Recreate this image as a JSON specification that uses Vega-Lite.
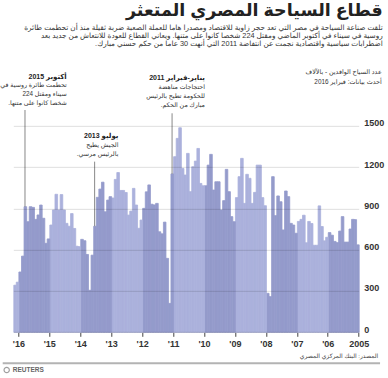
{
  "$schema": "https://vega.github.io/schema/vega-lite/v6.json",
  "width": 345.4,
  "height": 275.46,
  "autosize": {"type": "none"},
  "padding": {"left": 13.3, "top": 56.84, "right": 29.3, "bottom": 45.7},
  "background": "white",
  "config": {
    "view": {"stroke": null},
    "font": "Liberation Sans, DejaVu Sans, sans-serif"
  },
  "title": {
    "text": "\u202Bقطاع السياحة المصري المتعثر\u202C",
    "subtitle": [
      "\u202Bتلقت صناعة السياحة في مصر التي تعد حجر زاوية للاقتصاد ومصدرا هاما للعملة الصعبة ضربة ثقيلة منذ أن تحطمت طائرة\u202C",
      "\u202Bروسية في سيناء في أكتوبر الماضي ومقتل 224 شخصا كانوا على متنها. ويعاني القطاع للعودة للانتعاش من جديد بعد\u202C",
      "\u202Bاضطرابات سياسية واقتصادية نجمت عن انتفاضة 2011 التي أنهت 30 عاما من حكم حسني مبارك.\u202C"
    ],
    "anchor": "end",
    "frame": "group",
    "dx": 24,
    "fontSize": 17.5,
    "fontWeight": "bold",
    "color": "#222222",
    "subtitleFontSize": 7.3,
    "subtitleColor": "#333333",
    "subtitleLineHeight": 7.6,
    "subtitlePadding": 5,
    "offset": 10
  },
  "datasets": {
    "arrivals": [
      {"d": "2005-01-01", "v": 635}, {"d": "2005-02-01", "v": 818}, {"d": "2005-03-01", "v": 820}, {"d": "2005-04-01", "v": 750},
      {"d": "2005-05-01", "v": 655}, {"d": "2005-06-01", "v": 655}, {"d": "2005-07-01", "v": 840}, {"d": "2005-08-01", "v": 735},
      {"d": "2005-09-01", "v": 651}, {"d": "2005-10-01", "v": 660}, {"d": "2005-11-01", "v": 705}, {"d": "2005-12-01", "v": 724},
      {"d": "2006-01-01", "v": 690}, {"d": "2006-02-01", "v": 664}, {"d": "2006-03-01", "v": 768}, {"d": "2006-04-01", "v": 918},
      {"d": "2006-05-01", "v": 632}, {"d": "2006-06-01", "v": 632}, {"d": "2006-07-01", "v": 790}, {"d": "2006-08-01", "v": 805},
      {"d": "2006-09-01", "v": 650}, {"d": "2006-10-01", "v": 850}, {"d": "2006-11-01", "v": 820}, {"d": "2006-12-01", "v": 805},
      {"d": "2007-01-01", "v": 719}, {"d": "2007-02-01", "v": 779}, {"d": "2007-03-01", "v": 791}, {"d": "2007-04-01", "v": 985},
      {"d": "2007-05-01", "v": 1026}, {"d": "2007-06-01", "v": 743}, {"d": "2007-07-01", "v": 948}, {"d": "2007-08-01", "v": 990},
      {"d": "2007-09-01", "v": 847}, {"d": "2007-10-01", "v": 1130}, {"d": "2007-11-01", "v": 259}, {"d": "2007-12-01", "v": 283},
      {"d": "2008-01-01", "v": 919}, {"d": "2008-02-01", "v": 978}, {"d": "2008-03-01", "v": 1214}, {"d": "2008-04-01", "v": 1214},
      {"d": "2008-05-01", "v": 1016}, {"d": "2008-06-01", "v": 936}, {"d": "2008-07-01", "v": 1118}, {"d": "2008-08-01", "v": 1147},
      {"d": "2008-09-01", "v": 936}, {"d": "2008-10-01", "v": 1263}, {"d": "2008-11-01", "v": 1130}, {"d": "2008-12-01", "v": 978},
      {"d": "2009-01-01", "v": 803}, {"d": "2009-02-01", "v": 840}, {"d": "2009-03-01", "v": 1021}, {"d": "2009-04-01", "v": 1183},
      {"d": "2009-05-01", "v": 956}, {"d": "2009-06-01", "v": 888}, {"d": "2009-07-01", "v": 1093}, {"d": "2009-08-01", "v": 1093},
      {"d": "2009-09-01", "v": 1033}, {"d": "2009-10-01", "v": 1292}, {"d": "2009-11-01", "v": 1214}, {"d": "2009-12-01", "v": 1064},
      {"d": "2010-01-01", "v": 1064}, {"d": "2010-02-01", "v": 1081}, {"d": "2010-03-01", "v": 1335}, {"d": "2010-04-01", "v": 1243},
      {"d": "2010-05-01", "v": 1202}, {"d": "2010-06-01", "v": 1021}, {"d": "2010-07-01", "v": 1299}, {"d": "2010-08-01", "v": 1142},
      {"d": "2010-09-01", "v": 1190}, {"d": "2010-10-01", "v": 1485}, {"d": "2010-11-01", "v": 1408}, {"d": "2010-12-01", "v": 1275},
      {"d": "2011-01-01", "v": 1150}, {"d": "2011-02-01", "v": 210}, {"d": "2011-03-01", "v": 537}, {"d": "2011-04-01", "v": 800},
      {"d": "2011-05-01", "v": 715}, {"d": "2011-06-01", "v": 730}, {"d": "2011-07-01", "v": 936}, {"d": "2011-08-01", "v": 925},
      {"d": "2011-09-01", "v": 930}, {"d": "2011-10-01", "v": 1070}, {"d": "2011-11-01", "v": 1020}, {"d": "2011-12-01", "v": 900},
      {"d": "2012-01-01", "v": 815}, {"d": "2012-02-01", "v": 755}, {"d": "2012-03-01", "v": 924}, {"d": "2012-04-01", "v": 1045},
      {"d": "2012-05-01", "v": 880}, {"d": "2012-06-01", "v": 851}, {"d": "2012-07-01", "v": 1015}, {"d": "2012-08-01", "v": 1030},
      {"d": "2012-09-01", "v": 1030}, {"d": "2012-10-01", "v": 1160}, {"d": "2012-11-01", "v": 1110}, {"d": "2012-12-01", "v": 975},
      {"d": "2013-01-01", "v": 985}, {"d": "2013-02-01", "v": 960}, {"d": "2013-03-01", "v": 875}, {"d": "2013-04-01", "v": 1090},
      {"d": "2013-05-01", "v": 1040}, {"d": "2013-06-01", "v": 980}, {"d": "2013-07-01", "v": 770}, {"d": "2013-08-01", "v": 560},
      {"d": "2013-09-01", "v": 305}, {"d": "2013-10-01", "v": 565}, {"d": "2013-11-01", "v": 665}, {"d": "2013-12-01", "v": 675},
      {"d": "2014-01-01", "v": 622}, {"d": "2014-02-01", "v": 625}, {"d": "2014-03-01", "v": 754}, {"d": "2014-04-01", "v": 862},
      {"d": "2014-05-01", "v": 770}, {"d": "2014-06-01", "v": 791}, {"d": "2014-07-01", "v": 888}, {"d": "2014-08-01", "v": 1000},
      {"d": "2014-09-01", "v": 888}, {"d": "2014-10-01", "v": 1002}, {"d": "2014-11-01", "v": 888}, {"d": "2014-12-01", "v": 779},
      {"d": "2015-01-01", "v": 678}, {"d": "2015-02-01", "v": 646}, {"d": "2015-03-01", "v": 828}, {"d": "2015-04-01", "v": 924},
      {"d": "2015-05-01", "v": 852}, {"d": "2015-06-01", "v": 820}, {"d": "2015-07-01", "v": 907}, {"d": "2015-08-01", "v": 912},
      {"d": "2015-09-01", "v": 803}, {"d": "2015-10-01", "v": 912}, {"d": "2015-11-01", "v": 553}, {"d": "2015-12-01", "v": 438},
      {"d": "2016-01-01", "v": 364}, {"d": "2016-02-01", "v": 342}
    ],
    "notes": [
      {"head": "\u202Bأكتوبر 2015\u202C", "body": ["\u202Bتحطمت طائرة روسية في\u202C", "\u202Bسيناء ومقتل 224\u202C", "\u202Bشخصا كانوا على متنها.\u202C"],
       "textDate": "2014-06-09", "headY": 1856, "bodyY": 1818, "lineDate": "2015-10-15", "lineTop": 1614, "lineBottom": 912},
      {"head": "\u202Bيوليو 2013\u202C", "body": ["\u202Bالجيش يطيح\u202C", "\u202Bبالرئيس مرسي.\u202C"],
       "textDate": "2012-10-07", "headY": 1425, "bodyY": 1382, "lineDate": "2013-07-15", "lineTop": 1239, "lineBottom": 770},
      {"head": "\u202Bيناير-فبراير 2011\u202C", "body": ["\u202Bاحتجاجات مناهضة\u202C", "\u202Bللحكومة تطيح بالرئيس\u202C", "\u202Bمبارك من الحكم.\u202C"],
       "textDate": "2009-12-21", "headY": 1843, "bodyY": 1800, "lineDate": "2011-01-13", "lineTop": 1590, "lineBottom": 1150}
    ],
    "one": [{}]
  },
  "layer": [
    {
      "data": {"name": "arrivals"},
      "mark": {"type": "bar", "binSpacing": 0, "strokeWidth": 0.8},
      "encoding": {
        "x": {
          "field": "d", "timeUnit": "utcyearmonth", "type": "temporal",
          "scale": {
            "type": "utc",
            "domain": [{"year": 2005, "month": 1, "date": 1, "utc": true}, {"year": 2016, "month": 3, "date": 1, "utc": true}],
            "reverse": true
          },
          "axis": {
            "title": null,
            "tickCount": {"interval": "year", "step": 1},
            "labelExpr": "utcyear(datum.value) == 2005 ? '2005' : \"'\" + utcFormat(datum.value, '%y')",
            "grid": false,
            "domain": false,
            "tickSize": 4,
            "tickColor": "#444444",
            "labelPadding": 3,
            "labelFontSize": 9,
            "labelFontWeight": "bold",
            "labelColor": "#333333",
            "labelFlush": false,
            "labelOverlap": false,
            "labelSeparation": 0
          }
        },
        "y": {
          "field": "v", "type": "quantitative",
          "scale": {"domain": [0, 2000], "nice": false},
          "axis": {
            "orient": "right",
            "title": null,
            "values": [0, 300, 600, 900, 1200, 1500],
            "format": "d",
            "grid": true,
            "gridColor": "#000000",
            "gridOpacity": 0.13,
            "ticks": false,
            "domain": false,
            "labelPadding": 5,
            "labelFontSize": 9,
            "labelFontWeight": "bold",
            "labelColor": "#333333",
            "labelBaseline": "alphabetic",
            "zindex": 1
          }
        },
        "color": {
          "field": "d", "timeUnit": "utcyear", "type": "ordinal",
          "scale": {"range": ["#949bcb", "#abb1dc"]},
          "legend": null
        },
        "stroke": {
          "field": "d", "timeUnit": "utcyear", "type": "ordinal",
          "scale": {"range": ["#949bcb", "#abb1dc"]},
          "legend": null
        }
      }
    },
    {
      "data": {"name": "notes"},
      "mark": {"type": "rule", "color": "#7a7a7a", "strokeWidth": 0.9},
      "encoding": {
        "x": {"field": "lineDate", "type": "temporal"},
        "y": {"field": "lineTop", "type": "quantitative"},
        "y2": {"field": "lineBottom"}
      }
    },
    {
      "data": {"name": "notes"},
      "mark": {"type": "text", "align": "right", "baseline": "middle", "fontSize": 7, "fontWeight": "bold", "color": "#222222"},
      "encoding": {
        "x": {"field": "textDate", "type": "temporal"},
        "y": {"field": "headY", "type": "quantitative"},
        "text": {"field": "head"}
      }
    },
    {
      "data": {"name": "notes"},
      "mark": {"type": "text", "align": "right", "baseline": "top", "fontSize": 6.3, "lineHeight": 9, "color": "#333333"},
      "encoding": {
        "x": {"field": "textDate", "type": "temporal"},
        "y": {"field": "bodyY", "type": "quantitative"},
        "text": {"field": "body"}
      }
    },
    {
      "data": {"name": "one"},
      "mark": {"type": "text", "align": "right", "baseline": "top", "fontSize": 6.4, "lineHeight": 10, "color": "#333333",
               "text": ["\u202Bعدد السياح الوافدين - بالآلاف\u202C", "\u202Bأحدث بيانات: فبراير 2016\u202C"]},
      "encoding": {
        "x": {"datum": {"year": 2004, "month": 4, "date": 4, "utc": true}, "type": "temporal"},
        "y": {"datum": 1915, "type": "quantitative"}
      }
    },
    {
      "data": {"name": "one"},
      "mark": {"type": "text", "align": "right", "baseline": "middle", "fontSize": 6, "color": "#444444",
               "text": "\u202Bالمصدر: البنك المركزي المصري\u202C"},
      "encoding": {
        "x": {"datum": {"year": 2004, "month": 5, "date": 16, "utc": true}, "type": "temporal"},
        "y": {"datum": -170, "type": "quantitative"}
      }
    },
    {
      "data": {"name": "one"},
      "mark": {"type": "rule", "color": "#b3b3b3", "strokeWidth": 2},
      "encoding": {
        "x": {"datum": {"year": 2016, "month": 7, "date": 4, "utc": true}, "type": "temporal"},
        "x2": {"datum": {"year": 2004, "month": 4, "date": 24, "utc": true}},
        "y": {"datum": -225, "type": "quantitative"}
      }
    },
    {
      "data": {"name": "one"},
      "mark": {"type": "point", "shape": "circle", "size": 28, "filled": false, "color": "#777777", "strokeWidth": 1.2},
      "encoding": {
        "x": {"datum": {"year": 2016, "month": 5, "date": 18, "utc": true}, "type": "temporal"},
        "y": {"datum": -274, "type": "quantitative"}
      }
    },
    {
      "data": {"name": "one"},
      "mark": {"type": "text", "align": "left", "baseline": "middle", "fontSize": 6.5, "fontWeight": "bold", "color": "#666666", "text": "REUTERS"},
      "encoding": {
        "x": {"datum": {"year": 2016, "month": 3, "date": 8, "utc": true}, "type": "temporal"},
        "y": {"datum": -274, "type": "quantitative"}
      }
    }
  ]
}
